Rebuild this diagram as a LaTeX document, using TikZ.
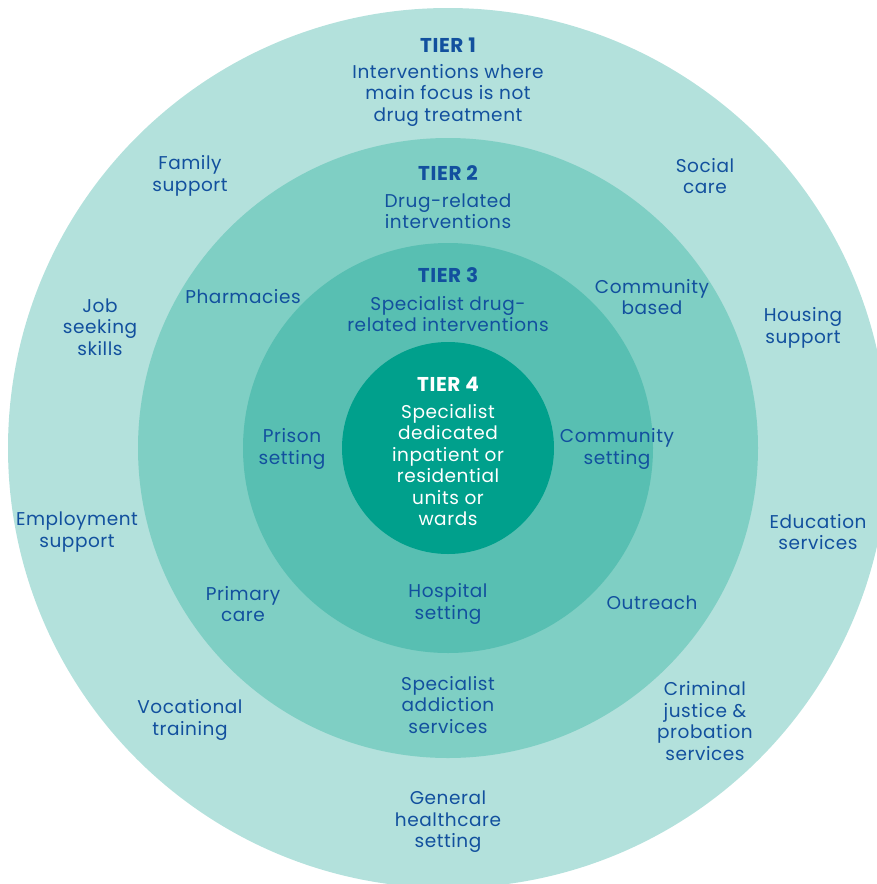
\documentclass[tikz,border=0pt]{standalone}
\usepackage{fontspec}
\setmainfont{Poppins}[LetterSpace=3]
\usepackage{tikz}
\usetikzlibrary{positioning}
\definecolor{tierone}{HTML}{B3E1DC}
\definecolor{tiertwo}{HTML}{7FCFC4}
\definecolor{tierthree}{HTML}{58BFB2}
\definecolor{tierfour}{HTML}{00A08C}
\definecolor{ink}{HTML}{12509E}

\begin{document}
\begin{tikzpicture}[x=1pt,y=-1pt,
	lbl/.style={text=ink,align=center,inner sep=0pt,font=\fontsize{18.5}{21.5}\selectfont},
	ttl/.style={lbl,font=\fontsize{20}{21.5}\selectfont\bfseries},
	inner/.style={lbl,text=white},
	innerttl/.style={ttl,text=white}]
	\useasboundingbox (0,0) rectangle (877,884);
	\begin{scope}
		\clip (0,0) rectangle (877,884);
		\fill[tierone] (448,448) circle (440);
	\end{scope}
	\fill[tiertwo] (448,448) circle (310);
	\fill[tierthree] (448,448) circle (205);
	\fill[tierfour] (448,448) circle (106);

	% tier 1
	\node[ttl] (t1) at (448,45) {TIER 1};
	\node[lbl] (t1txt) at (448,95) {Interventions where\\main focus is not\\drug treatment};
	\node[lbl] (family) at (190,176) {Family\\support};
	\node[lbl] (social) at (705,176) {Social\\care};
	\node[lbl] (job) at (100,327) {Job\\seeking\\skills};
	\node[lbl] (housing) at (803,328) {Housing\\support};
	\node[lbl] (employ) at (77,532) {Employment\\support};
	\node[lbl] (educ) at (818,532) {Education\\services};
	\node[lbl] (vocat) at (190,720) {Vocational\\training};
	\node[lbl] (crim) at (705,721) {Criminal\\justice \&\\probation\\services};
	\node[lbl] (general) at (448,822) {General\\healthcare\\setting};

	% tier 2
	\node[ttl] (t2) at (448,173) {TIER 2};
	\node[lbl] (t2txt) at (448,211) {Drug-related\\interventions};
	\node[lbl] (pharm) at (243,297) {Pharmacies};
	\node[lbl] (commb) at (652,297) {Community\\based};
	\node[lbl] (primary) at (243,604) {Primary\\care};
	\node[lbl] (outreach) at (652,603) {Outreach};
	\node[lbl] (addict) at (448,705) {Specialist\\addiction\\services};

	% tier 3
	\node[ttl] (t3) at (448,275) {TIER 3};
	\node[lbl] (t3txt) at (448,314) {Specialist drug-\\related interventions};
	\node[lbl] (prison) at (292,449) {Prison\\setting};
	\node[lbl] (comms) at (617,449) {Community\\setting};
	\node[lbl] (hosp) at (448,604) {Hospital\\setting};

	% tier 4
	\node[innerttl] (t4) at (448,384) {TIER 4};
	\node[inner] (t4txt) at (448,465) {Specialist\\dedicated\\inpatient or\\residential\\units or\\wards};
\end{tikzpicture}
\end{document}
